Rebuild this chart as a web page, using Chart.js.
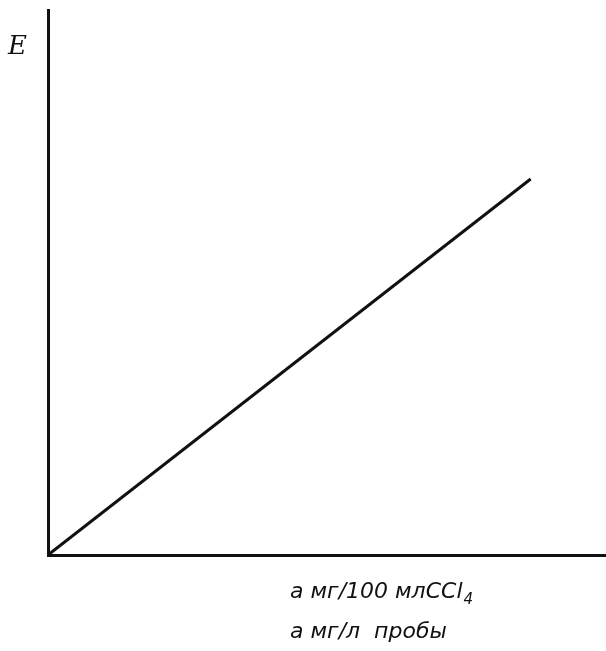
<!DOCTYPE html>
<html>
<head>
<meta charset="utf-8">
<script src="https://cdn.jsdelivr.net/npm/chart.js@4/dist/chart.umd.min.js"></script>
<style>
  body { margin: 0; background: #fff; }
  #wrap { width: 606px; height: 651px; }
</style>
</head>
<body>
<div id="wrap"><canvas id="chart"></canvas></div>
<script>
// values (arbitrary units, axes have no ticks)
const xValues = [0, 8.65];
const eValues = [0, 6.9];
const yLabel = 'E';
const xLabelTop = 'a мг/100 млCCl';
const xLabelBottom = 'a мг/л  пробы';

const ink = '#111';

// hand-written labels drawn on the canvas
const labelsPlugin = {
  id: 'labels',
  afterDraw(chart) {
    const c = chart.ctx;
    c.save();
    c.fillStyle = ink;
    c.textBaseline = 'alphabetic';
    c.font = 'italic 26px "DejaVu Serif"';
    c.fillText(yLabel, 8, 54);
    c.font = 'italic 22px "DejaVu Sans"';
    c.fillText(xLabelTop, 290, 598);
    const w = c.measureText(xLabelTop).width;
    c.font = 'italic 15px "DejaVu Sans"';
    c.fillText('4', 290 + w + 1, 604);
    c.font = 'italic 22px "DejaVu Sans"';
    c.fillText(xLabelBottom, 290, 638);
    c.restore();
  }
};

new Chart(document.getElementById('chart'), {
  type: 'scatter',
  data: {
    datasets: [{
      data: xValues.map((x, i) => ({ x, y: eValues[i] })),
      showLine: true,
      borderColor: ink,
      borderWidth: 3,
      pointRadius: 0,
      fill: false
    }]
  },
  options: {
    responsive: true,
    maintainAspectRatio: false,
    animation: false,
    layout: { padding: { left: 48, top: 10, right: 0, bottom: 96 } },
    plugins: { legend: { display: false }, tooltip: { enabled: false } },
    scales: {
      x: {
        min: 0, max: 10,
        ticks: { display: false },
        grid: { display: false, drawTicks: false },
        border: { display: true, color: ink, width: 3 }
      },
      y: {
        min: 0, max: 10,
        ticks: { display: false },
        grid: { display: false, drawTicks: false },
        border: { display: true, color: ink, width: 3 }
      }
    }
  },
  plugins: [labelsPlugin]
});
</script>
</body>
</html>
